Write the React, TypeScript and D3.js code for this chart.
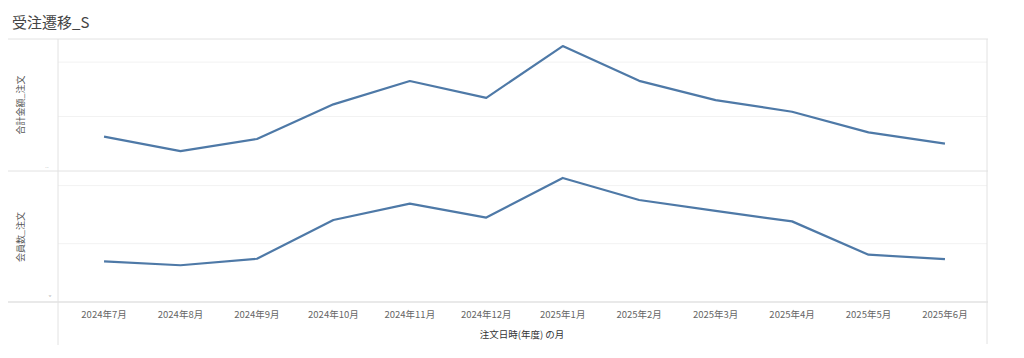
import React from "react";
import * as d3 from "d3";

const months = ["2024年7月","2024年8月","2024年9月","2024年10月","2024年11月","2024年12月","2025年1月","2025年2月","2025年3月","2025年4月","2025年5月","2025年6月"];
const amountValues = [3.15, 1.83, 2.94, 6.12, 8.26, 6.72, 11.47, 8.28, 6.51, 5.44, 3.55, 2.51]; // 百万円 (est.)
const amountTicks = [0, 5, 10];
const memberValues = [34.8, 31.4, 37.0, 70.4, 84.5, 72.5, 106.6, 87.6, 78.2, 69.2, 40.5, 36.6];
const memberTicks = [0, 50, 100];

const W = 1024, H = 358;
const FONT = "'Noto Sans CJK JP', 'Noto Sans', sans-serif";

export default function App() {
  const x = d3.scalePoint<string>().domain(months).range([62, 987]).padding(0.55);
  const y1 = d3.scaleLinear().domain([0, 12.12]).range([171, 39]);
  const y2 = d3.scaleLinear().domain([0, 112.6]).range([301.7, 171]);
  const line1 = d3.line<number>().x((_, i) => x(months[i])!).y(d => y1(d));
  const line2 = d3.line<number>().x((_, i) => x(months[i])!).y(d => y2(d));
  const border = "#e2e2e2";
  const grid = "#f2f2f2";
  return (
    <svg width={W} height={H} style={{ position: "absolute", left: 0, top: 0, background: "#fff" }} fontFamily={FONT}>
      <text x={12} y={28} fontSize={15} fill="#444">受注遷移_S</text>
      {/* gridlines */}
      {amountTicks.slice(1).map(t => (
        <line key={"g1" + t} x1={58} x2={987} y1={y1(t)} y2={y1(t)} stroke={grid} strokeWidth={1} />
      ))}
      {memberTicks.slice(1).map(t => (
        <line key={"g2" + t} x1={58} x2={987} y1={y2(t)} y2={y2(t)} stroke={grid} strokeWidth={1} />
      ))}
      {/* borders */}
      <line x1={8} x2={988} y1={39} y2={39} stroke={border} strokeWidth={1} />
      <line x1={8} x2={988} y1={171} y2={171} stroke={border} strokeWidth={1} />
      <line x1={8} x2={988} y1={302} y2={302} stroke={border} strokeWidth={1.5} />
      <line x1={58} x2={58} y1={39} y2={345} stroke={border} strokeWidth={1} />
      <line x1={987} x2={987} y1={39} y2={344} stroke={border} strokeWidth={1} />
      {/* truncated y tick labels */}
      <text x={47} y={168} fontSize={4} fill="#999" textAnchor="middle">...</text>
      <text x={50} y={299} fontSize={5} fill="#999" textAnchor="middle">ˇ</text>
      {/* y axis titles */}
      <text transform={`translate(24,${105}) rotate(-90)`} fontSize={9} fill="#555" textAnchor="middle">合計金額_注文</text>
      <text transform={`translate(24,${237}) rotate(-90)`} fontSize={9} fill="#555" textAnchor="middle">会員数_注文</text>
      {/* lines */}
      <path d={line1(amountValues)!} fill="none" stroke="#4e79a7" strokeWidth={2.2} strokeLinejoin="round" />
      <path d={line2(memberValues)!} fill="none" stroke="#4e79a7" strokeWidth={2.2} strokeLinejoin="round" />
      {/* x labels */}
      {months.map(m => (
        <text key={m} x={x(m)} y={318} fontSize={9.5} fill="#666" textAnchor="middle">{m}</text>
      ))}
      <text x={522} y={338} fontSize={9.5} fill="#333" textAnchor="middle">注文日時(年度) の月</text>
    </svg>
  );
}
